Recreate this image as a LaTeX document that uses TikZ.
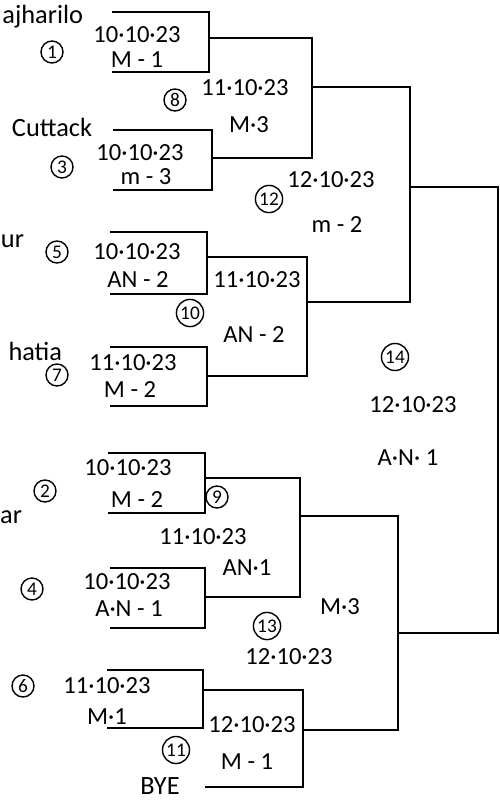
\documentclass[tikz,border=0pt]{standalone}
\usepackage{fontspec}
\setmainfont{Carlito}
\usetikzlibrary{positioning}

\begin{document}
\begin{tikzpicture}[x=0.02cm, y=-0.02cm, line width=1.1pt]
    \tikzstyle{team} = [font=\fontsize{15}{17}\selectfont, inner sep=0pt, anchor=east]
    \tikzstyle{info} = [font=\fontsize{14}{16}\selectfont, inner sep=0pt]
    \tikzstyle{num} = [circle, draw, line width=0.8pt, inner sep=0.8pt, minimum size=0.44cm, font=\fontsize{11}{12}\selectfont]

    \useasboundingbox (0,0) rectangle (500,801);

    % Team names (left column)
    \node (t1) [team] at (84,17) {ajharilo};
    \node (t3) [team] at (93,127) {Cuttack};
    \node (t5) [team] at (25,241) {ur};
    \node (t7) [team] at (63,351) {hatia};
    \node (t2) [team] at (23,517) {ar};
    \node (bye) [team, anchor=center] at (160,786) {BYE};

    % Output points of each match
    \coordinate (w1) at (209,38);
    \coordinate (w3) at (212,158);
    \coordinate (w5) at (207,257);
    \coordinate (w7) at (207,376);
    \coordinate (w2) at (205,478);
    \coordinate (w4) at (205,597);
    \coordinate (w6) at (203,690);
    \coordinate (wbye) at (205,787);
    \coordinate (w8) at (312,87);
    \coordinate (w10) at (307,302);
    \coordinate (w9) at (300,516);
    \coordinate (w11) at (303,730);
    \coordinate (w12) at (410,187);
    \coordinate (w13) at (398,633);
    \coordinate (w14) at (498,410);

    % First round brackets
    \draw (112,12) -| (209,72) -- (112,72);
    \draw (113,130) -| (212,190) -- (113,190);
    \draw (110,232) -| (207,294) -- (110,294);
    \draw (110,347) -| (207,406) -- (110,406);
    \draw (108,453) -| (205,513) -- (108,513);
    \draw (110,568) -| (205,628) -- (110,628);
    \draw (107,670) -| (203,728) -- (107,728);

    % Later rounds
    \draw (w1) -| (w8) |- (w3);
    \draw (w5) -| (w10) |- (w7);
    \draw (w2) -| (w9) |- (w4);
    \draw (w6) -| (w11) |- (wbye);
    \draw (w8) -| (w12) |- (w10);
    \draw (w9) -| (w13) |- (w11);
    \draw (w12) -| (w14) |- (w13);

    % Match 1, 3, 8, 12
    \node (n1) [num] at (52,52) {1};
    \node (d1) [info] at (137,35) {10·10·23};
    \node (s1) [info] at (137,60) {M - 1};
    \node (n3) [num] at (62,167) {3};
    \node (d3) [info] at (140,153) {10·10·23};
    \node (s3) [info] at (146,177) {m - 3};
    \node (n8) [num] at (175,100) {8};
    \node (d8) [info] at (245,88) {11·10·23};
    \node (s8) [info] at (249,125) {M·3};
    \node (n12) [num] at (269,199) {12};
    \node (d12) [info] at (331,180) {12·10·23};
    \node (s12) [info] at (337,225) {m - 2};

    % Match 5, 7, 10
    \node (n5) [num] at (57,252) {5};
    \node (d5) [info] at (137,252) {10·10·23};
    \node (s5) [info] at (138,280) {AN - 2};
    \node (n7) [num] at (57,375) {7};
    \node (d7) [info] at (133,363) {11·10·23};
    \node (s7) [info] at (130,390) {M - 2};
    \node (n10) [num] at (190,313) {10};
    \node (d10) [info] at (257,280) {11·10·23};
    \node (s10) [info] at (254,335) {AN - 2};

    % Final
    \node (n14) [num] at (395,357) {14};
    \node (d14) [info] at (413,405) {12·10·23};
    \node (s14) [info] at (408,458) {A·N· 1};

    % Match 2, 4, 9, 13
    \node (n2) [num] at (45,491) {2};
    \node (d2) [info] at (128,468) {10·10·23};
    \node (s2) [info] at (137,500) {M - 2};
    \node (n4) [num] at (32,589) {4};
    \node (d4) [info] at (127,582) {10·10·23};
    \node (s4) [info] at (129,609) {A·N - 1};
    \node (n9) [num] at (217,497) {9};
    \node (d9) [info] at (203,537) {11·10·23};
    \node (s9) [info] at (247,568) {AN·1};
    \node (n13) [num] at (267,626) {13};
    \node (s13) [info] at (340,607) {M·3};
    \node (d13) [info] at (289,657) {12·10·23};

    % Match 6, 11
    \node (n6) [num] at (23,686) {6};
    \node (d6) [info] at (107,686) {11·10·23};
    \node (s6) [info] at (107,717) {M·1};
    \node (n11) [num] at (176,750) {11};
    \node (d11) [info] at (252,725) {12·10·23};
    \node (s11) [info] at (247,762) {M - 1};
\end{tikzpicture}
\end{document}
